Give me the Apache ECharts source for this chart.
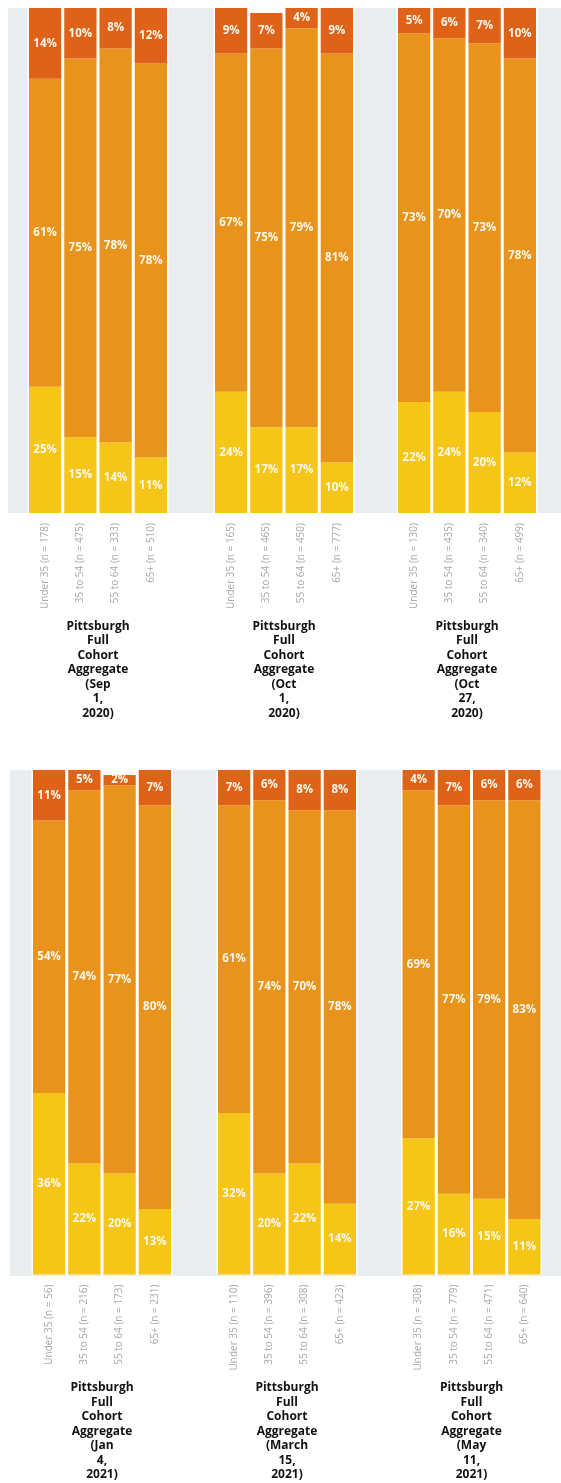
<!DOCTYPE html>
<html>
<head>
<meta charset="utf-8">
<script src="https://cdn.jsdelivr.net/npm/echarts@6/dist/echarts.min.js"></script>
<style>
  html, body { margin: 0; padding: 0; background: #fff; }
  #chart { width: 561px; height: 1483px; }
</style>
</head>
<body>
<div id="chart"></div>
<script>
// Age groups shown in every panel
const ageGroups = ['Under 35', '35 to 54', '55 to 64', '65+'];

// One entry per survey wave
const waveTitles = [
  'Pittsburgh\nFull\nCohort\nAggregate\n(Sep\n1,\n2020)',
  'Pittsburgh\nFull\nCohort\nAggregate\n(Oct\n1,\n2020)',
  'Pittsburgh\nFull\nCohort\nAggregate\n(Oct\n27,\n2020)',
  'Pittsburgh\nFull\nCohort\nAggregate\n(Jan\n4,\n2021)',
  'Pittsburgh\nFull\nCohort\nAggregate\n(March\n15,\n2021)',
  'Pittsburgh\nFull\nCohort\nAggregate\n(May\n11,\n2021)'
];

// Respondents per age group, per wave
const sampleSizes = [
  [178, 475, 333, 510],
  [165, 465, 450, 777],
  [130, 435, 340, 499],
  [56, 216, 173, 231],
  [110, 396, 308, 423],
  [308, 779, 471, 640]
];

// Percent shares, stacked bottom (yellow) -> middle (orange) -> top (dark orange)
const bottomShare = [
  [25, 15, 14, 11],
  [24, 17, 17, 10],
  [22, 24, 20, 12],
  [36, 22, 20, 13],
  [32, 20, 22, 14],
  [27, 16, 15, 11]
];
const middleShare = [
  [61, 75, 78, 78],
  [67, 75, 79, 81],
  [73, 70, 73, 78],
  [54, 74, 77, 80],
  [61, 74, 70, 78],
  [69, 77, 79, 83]
];
const topShare = [
  [14, 10, 8, 12],
  [9, 7, 4, 9],
  [5, 6, 7, 10],
  [11, 5, 2, 7],
  [7, 6, 8, 8],
  [4, 7, 6, 6]
];

const segmentColors = ['#f5c518', '#e8931b', '#de6318'];

// Panel placement: two rows of three
const panelLefts = [[27.5, 213.5, 396.5], [31.5, 216.5, 401]];
const rowTops = [8, 770];
const plotHeight = 505;
const panelWidth = 141;

const grids = [], xAxes = [], yAxes = [], series = [];

for (let p = 0; p < 6; p++) {
  const row = Math.floor(p / 3), col = p % 3;
  grids.push({
    left: panelLefts[row][col],
    top: rowTops[row],
    width: panelWidth,
    height: plotHeight,
    show: true,
    backgroundColor: '#ffffff',
    borderWidth: 0
  });
  xAxes.push({
    gridIndex: p,
    type: 'category',
    data: ageGroups.map((g, i) => g + ' (n = ' + sampleSizes[p][i] + ')'),
    axisLine: { show: false },
    axisTick: { show: false },
    axisLabel: {
      rotate: 90,
      margin: 10,
      color: '#a9a9a9',
      fontSize: 10,
      fontFamily: 'Open Sans'
    },
    name: waveTitles[p],
    nameLocation: 'middle',
    nameGap: 106,
    nameTextStyle: {
      color: '#111',
      fontWeight: 'bold',
      fontSize: 12,
      fontFamily: 'Open Sans',
      lineHeight: 14.5,
      align: 'center',
      verticalAlign: 'top'
    }
  });
  yAxes.push({
    gridIndex: p,
    type: 'value',
    min: 0,
    max: 100,
    show: false,
    splitLine: { show: false }
  });
  [bottomShare, middleShare, topShare].forEach((src, s) => {
    series.push({
      type: 'bar',
      xAxisIndex: p,
      yAxisIndex: p,
      stack: 'wave' + p,
      data: src[p],
      barCategoryGap: '8.5%',
      itemStyle: { color: segmentColors[s] },
      label: {
        show: true,
        position: 'inside',
        formatter: '{c}%',
        color: '#fff7ea',
        fontWeight: 'bold',
        fontSize: 11.5,
        fontFamily: 'Open Sans'
      }
    });
  });
}

const chart = echarts.init(document.getElementById('chart'), null, { renderer: 'canvas' });
chart.setOption({
  animation: false,
  backgroundColor: '#ffffff',
  graphic: [
    { type: 'rect', z: -100, silent: true, shape: { x: 8, y: 8, width: 553, height: 505 }, style: { fill: '#e9edf0' } },
    { type: 'rect', z: -100, silent: true, shape: { x: 10, y: 770, width: 551, height: 506 }, style: { fill: '#e9edf0' } }
  ],
  grid: grids,
  xAxis: xAxes,
  yAxis: yAxes,
  series: series
});
</script>
</body>
</html>
